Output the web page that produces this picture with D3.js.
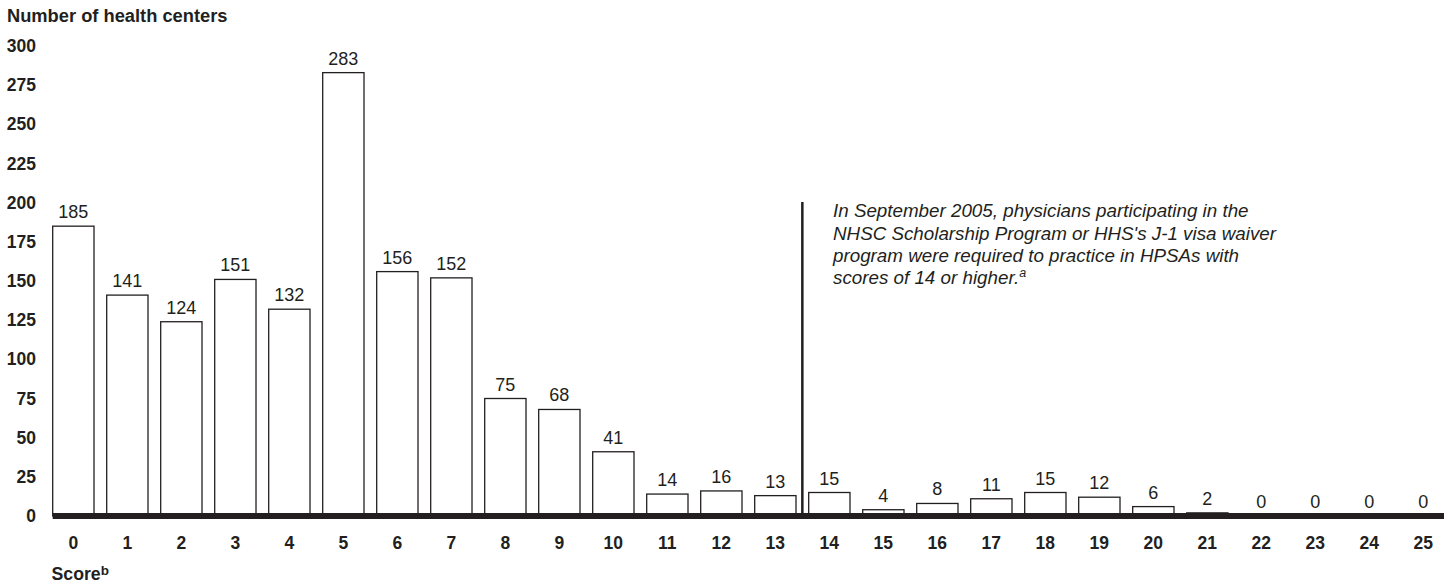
<!DOCTYPE html>
<html><head><meta charset="utf-8">
<script src="https://cdn.jsdelivr.net/npm/d3@7"></script>
<style>
html,body{margin:0;padding:0;background:#fff;}
svg{display:block;font-family:"Liberation Sans",Arial,Helvetica,sans-serif;}
</style></head>
<body><svg id="c" width="1449" height="585"></svg>
<script>
const scores = d3.range(0, 26).map(String);
const counts = [185,141,124,151,132,283,156,152,75,68,41,14,16,13,15,4,8,11,15,12,6,2,0,0,0,0];
const yTicks = d3.range(0, 301, 25);
const yTitle = "Number of health centers";
const xTitle = "Score";
const xTitleSup = "b";
const noteLines = [
  "In September 2005, physicians participating in the",
  "NHSC Scholarship Program or HHS's J-1 visa waiver",
  "program were required to practice in HPSAs with",
  "scores of 14 or higher."
];
const noteSup = "a";
const thresholdAfter = "13";

const ink = "#231f20";
const svg = d3.select("#c");

const x = d3.scaleBand().domain(scores).range([52.7, 1444]).paddingInner(0.235).paddingOuter(0);
const y = d3.scaleLinear().domain([0, 300]).range([516, 46]);

// title
svg.append("text").attr("x", 7).attr("y", 21.5).attr("font-size", 18.3).attr("font-weight", "bold")
  .attr("fill", ink).text(yTitle);

// y axis
const ya = svg.append("g").attr("transform", "translate(36,0)")
  .call(d3.axisLeft(y).tickValues(yTicks).tickSize(0).tickPadding(0).tickFormat(d3.format("d")));
ya.select(".domain").remove();
ya.selectAll("text").attr("font-size", 17.5).attr("font-weight", "bold").attr("fill", ink)
  .attr("font-family", "Liberation Sans, Arial, Helvetica, sans-serif");

// bars
svg.append("g").selectAll("rect").data(counts).join("rect")
  .attr("x", (d, i) => x(scores[i]))
  .attr("y", d => y(d))
  .attr("width", x.bandwidth())
  .attr("height", d => y(0) - y(d))
  .attr("fill", "#fff").attr("stroke", ink).attr("stroke-width", 1.3);

// value labels
svg.append("g").selectAll("text").data(counts).join("text")
  .attr("x", (d, i) => x(scores[i]) + x.bandwidth() / 2)
  .attr("y", d => y(d) - 8)
  .attr("text-anchor", "middle").attr("font-size", 18).attr("fill", ink)
  .text(d => d);

// thick baseline
svg.append("rect").attr("x", x.range()[0]).attr("y", y(0) - 3)
  .attr("width", x.range()[1] - x.range()[0]).attr("height", 6).attr("fill", ink);

// x axis labels
const xa = svg.append("g").attr("transform", `translate(0,${y(0) + 21})`)
  .call(d3.axisBottom(x).tickSize(0).tickPadding(0));
xa.select(".domain").remove();
xa.selectAll("text").attr("font-size", 17.5).attr("font-weight", "bold").attr("fill", ink)
  .attr("font-family", "Liberation Sans, Arial, Helvetica, sans-serif");

// x title
const xt = svg.append("text").attr("x", 51.5).attr("y", 580).attr("font-size", 17.7)
  .attr("font-weight", "bold").attr("fill", ink);
xt.append("tspan").text(xTitle);
xt.append("tspan").attr("dy", -5).attr("font-size", 13.5).text(xTitleSup);

// threshold line
const i13 = scores.indexOf(thresholdAfter);
const lx = (x(scores[i13]) + x.bandwidth() + x(scores[i13 + 1])) / 2;
svg.append("line").attr("x1", lx).attr("x2", lx).attr("y1", 202).attr("y2", y(0))
  .attr("stroke", ink).attr("stroke-width", 2.5);

// note
const note = svg.append("g").attr("font-size", 18.8).attr("font-style", "italic").attr("fill", ink);
noteLines.forEach((t, i) => {
  const tx = note.append("text").attr("x", 833).attr("y", 217.3 + i * 22.3).text(t);
  if (i === noteLines.length - 1) {
    tx.append("tspan").attr("dy", -7).attr("font-size", 12.5).text(noteSup);
  }
});
</script></body></html>
